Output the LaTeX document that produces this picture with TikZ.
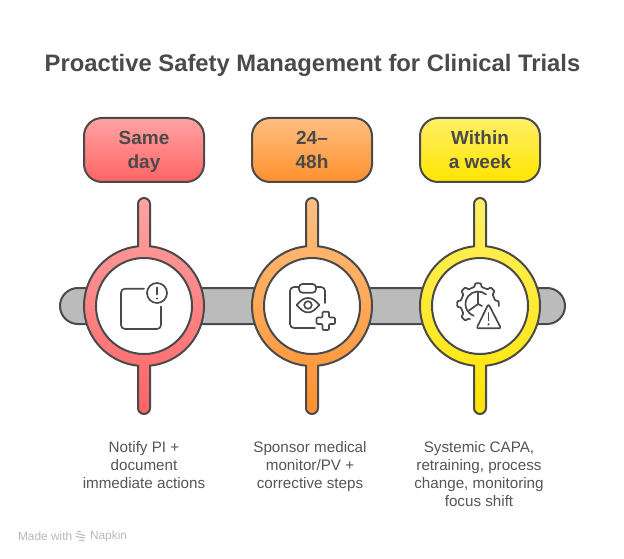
\documentclass[tikz,border=0pt]{standalone}
\usepackage{fontspec}
\setmainfont{Liberation Sans}
\definecolor{inkdark}{HTML}{4A4A4A}
\definecolor{labelgray}{HTML}{555555}
\definecolor{bargray}{HTML}{BBBBBB}
\definecolor{footgray}{HTML}{B8B8B8}
\definecolor{redtop}{HTML}{FFA3A3}
\definecolor{redlow}{HTML}{FF6464}
\definecolor{orangetop}{HTML}{FFBF80}
\definecolor{orangelow}{HTML}{FF902E}
\definecolor{yellowtop}{HTML}{FFEF66}
\definecolor{yellowlow}{HTML}{FFE500}
\tikzset{
  headbox/.style={draw=inkdark, rounded corners=18pt, minimum width=120pt, minimum height=64pt,
    inner sep=0pt, align=center, text=inkdark, font=\fontsize{19}{24}\selectfont\bfseries},
  ringshape/.style={draw=inkdark},
  hole/.style={draw=inkdark, fill=white},
  icon/.style={draw=inkdark, line width=1.7pt, line cap=round, line join=round},
  caption/.style={align=center, text=labelgray, inner sep=0pt, font=\fontsize{15.2}{18}\selectfont},
  foot/.style={text=footgray, inner sep=0pt, font=\fontsize{11.9}{14}\selectfont}
}
\begin{document}
\begin{tikzpicture}[x=1pt, y=1pt, line width=2pt]
  \useasboundingbox (0,0) rectangle (624,558);
  \node[text=inkdark, inner sep=0pt, font=\fontsize{23.8}{30}\selectfont\bfseries] (title) at (312.5,493) {Proactive Safety Management for Clinical Trials};
  % bar behind the rings
  \draw[draw=inkdark, fill=bargray] (78,270) arc[start angle=90, end angle=270, radius=18] -- (547,234) arc[start angle=-90, end angle=90, radius=18] -- cycle;
  % rings with stems
  \draw[ringshape, top color=redtop, bottom color=redlow] (138,354) arc[start angle=180, end angle=0, radius=6] -- (150,311.7) arc[start angle=84.26, end angle=-84.26, radius=60] -- (150,150) arc[start angle=0, end angle=-180, radius=6] -- (138,192.3) arc[start angle=264.26, end angle=95.74, radius=60] -- cycle;
  \draw[hole] (144,252) circle (48);
  \draw[ringshape, top color=orangetop, bottom color=orangelow] (306,354) arc[start angle=180, end angle=0, radius=6] -- (318,311.7) arc[start angle=84.26, end angle=-84.26, radius=60] -- (318,150) arc[start angle=0, end angle=-180, radius=6] -- (306,192.3) arc[start angle=264.26, end angle=95.74, radius=60] -- cycle;
  \draw[hole] (312,252) circle (48);
  \draw[ringshape, top color=yellowtop, bottom color=yellowlow] (474,354) arc[start angle=180, end angle=0, radius=6] -- (486,311.7) arc[start angle=84.26, end angle=-84.26, radius=60] -- (486,150) arc[start angle=0, end angle=-180, radius=6] -- (474,192.3) arc[start angle=264.26, end angle=95.74, radius=60] -- cycle;
  \draw[hole] (480,252) circle (48);
  % boxes on top
  \node[headbox, top color=redtop, bottom color=redlow] (sameday) at (144,408) {\rule{0pt}{20.8pt}Same\\\strut day};
  \node[headbox, top color=orangetop, bottom color=orangelow] (twoday) at (312,408) {\rule{0pt}{20.8pt}24–\\\strut 48h};
  \node[headbox, top color=yellowtop, bottom color=yellowlow] (oneweek) at (480,408) {\rule{0pt}{20.8pt}Within\\\strut a week};
  % note icon
  \draw[icon, rounded corners=4pt] (144,269.3) -- (121,269.3) -- (121,229) -- (161,229) -- (161,251.5);
  \draw[icon] (157,265) circle (10);
  \draw[icon] (157,270.5) -- (157,263.5);
  \fill[inkdark] (157,259.5) circle (1.2);
  % clipboard icon
  \draw[icon, rounded corners=4pt] (299,271) -- (290,271) -- (290,230) -- (315,230);
  \draw[icon, rounded corners=4pt] (316,271) -- (325,271) -- (325,255);
  \draw[icon, rounded corners=3.5pt] (299,265.3) rectangle (316,274);
  \draw[icon] (296.7,253) .. controls (301,258) and (304,260) .. (308,260) .. controls (312,260) and (315,258) .. (319.3,253) .. controls (315,248) and (312,245.6) .. (308,245.6) .. controls (304,245.6) and (301,248) .. (296.7,253) -- cycle;
  \draw[icon] (308,253) circle (3.8);
  \draw[icon, rounded corners=1pt] (322.5,246.3) -- (329,246.3) -- (329,240.5) -- (335,240.5) -- (335,234) -- (329,234) -- (329,228) -- (322.5,228) -- (322.5,234) -- (316.5,234) -- (316.5,240.5) -- (322.5,240.5) -- cycle;
  % gear icon
  \begin{scope}[shift={(478,254)}]
    \draw[icon, rounded corners=1pt] (242:17) -- (236:17.5) -- (233:21) -- (217:21) -- (214:17.5) -- (191:17.5) -- (188:21) -- (172:21) -- (169:17.5) -- (146:17.5) -- (143:21) -- (127:21) -- (124:17.5) -- (101:17.5) -- (98:21) -- (82:21) -- (79:17.5) -- (56:17.5) -- (53:21) -- (37:21) -- (34:17.5) -- (11:17.5) -- (8:21) -- (-6:21);
    \draw[icon] (50:12.5) arc[start angle=50, end angle=250, radius=12.5];
    \draw[icon] (0,12.5) -- (0,0) -- (-9,-6.5);
    \draw[icon] (0,0) -- (4,-2);
  \end{scope}
  \draw[icon, rounded corners=2pt] (488.5,254) -- (476.5,229.7) -- (501,229.7) -- cycle;
  \draw[icon] (488.5,245) -- (488.5,237.5);
  \fill[inkdark] (488.5,233.7) circle (1.2);
  % captions
  \node[caption] (notify) at (144,91) {\strut Notify PI +\\document\\\strut immediate actions};
  \node[caption] (sponsor) at (310,91) {\strut Sponsor medical\\monitor/PV +\\\strut corrective steps};
  \node[caption] (capa) at (479,82) {\strut Systemic CAPA,\\retraining, process\\change, monitoring\\\strut focus shift};
  % footer
  \node[foot, anchor=west] (madewith) at (17,22) {Made with};
  \node[foot, anchor=west] (napkin) at (89,22) {Napkin};
  \draw[footgray, line width=1pt] (77,27) -- (81,26) (76,24.5) -- (85,22.5) (76,21.5) -- (85,20) (79,18) -- (84,17.5);
\end{tikzpicture}
\end{document}
